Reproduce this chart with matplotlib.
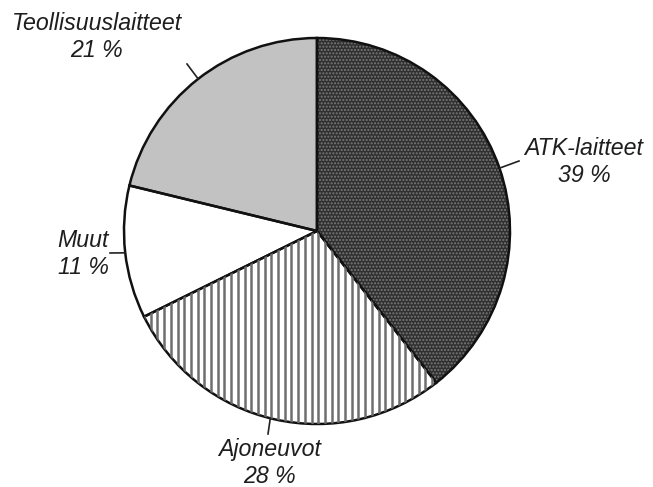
import numpy as np
import matplotlib
matplotlib.use("Agg")
from matplotlib import pyplot as plt

# data
labels = ["ATK-laitteet", "Ajoneuvot", "Muut", "Teollisuuslaitteet"]
shares = [39, 28, 11, 21]

W, H = 653, 487
CX, CY, R = 317, H - 231, 193

plt.rcParams['font.family'] = ['Liberation Sans', 'DejaVu Sans']

fig = plt.figure(figsize=(W / 100, H / 100), dpi=100)
ax = fig.add_axes([0, 0, 1, 1])

# base fills (hatch colour comes from edgecolor, outlines are drawn again below)
wedges, _ = ax.pie(shares, startangle=90, counterclock=False,
                   center=(CX, CY), radius=R, frame=True,
                   colors=["#303030", "white", "white", "#c2c2c2"],
                   wedgeprops=dict(linewidth=0))
wedges[0].set_hatch(".....")
wedges[0].set_edgecolor("#7a7a7a")

# vertical line texture for Ajoneuvot
xs = np.arange(CX - R, CX + R, 6.7)
vl = ax.vlines(xs, CY - R, CY + R, colors="#6e6e6e", linewidth=1.8)
vl.set_clip_path(wedges[1])

# black outlines
ax.pie(shares, startangle=90, counterclock=False, center=(CX, CY),
       radius=R, frame=True, colors=["none"] * 4,
       wedgeprops=dict(linewidth=1.8, edgecolor="#111111", fill=False))

ax.set_xlim(0, W)
ax.set_ylim(0, H)
ax.set_aspect("equal")
ax.set_axis_off()

# labels: (text position, leader start angle, leader end point) in image pixels
layout = {
    "ATK-laitteet": ((584, 162), 19, (519, 161)),
    "Ajoneuvot": ((270, 463), 256, (268, 434)),
    "Muut": ((83, 254), 186.5, (110, 253)),
    "Teollisuuslaitteet": ((97, 37), 128, (187, 64)),
}
for lab, val in zip(labels, shares):
    (tx, ty), ang, (ex, ey) = layout[lab]
    ax.text(tx, H - ty, f"{lab}\n{val} %", ha="center", va="center",
            fontsize=16.7, style="italic", color="#1e1e1e", linespacing=1.2)
    a = np.radians(ang)
    sx, sy = CX + R * np.cos(a), CY + R * np.sin(a)
    ax.plot([sx, ex], [sy, H - ey], color="#222222", linewidth=1.2)

fig.savefig("out.png", dpi=100)
